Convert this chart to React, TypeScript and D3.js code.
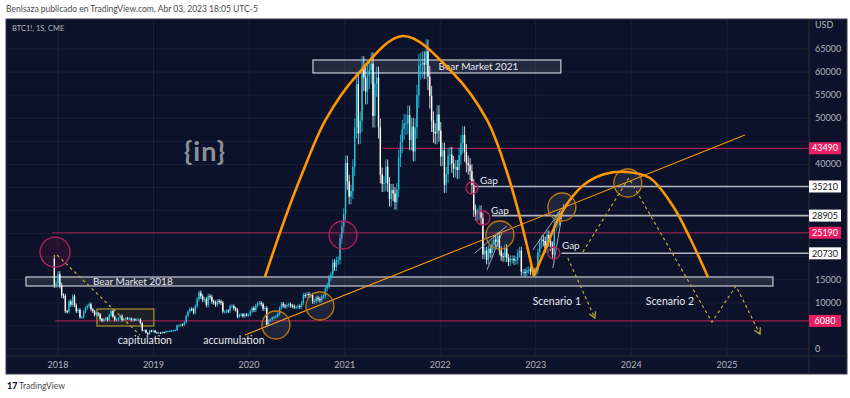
import * as d3 from "d3";

// weekly closes, CME BTC1! (1S = weekly)
const firstWeek = new Date(2017, 11, 18);
const firstOpen = 19600;
const closes2017 = [13900, 14200];
const closes2018 = [
  16200, 13800, 11600, 11500, 8200, 8100, 10300, 9600, 11400, 9500, 8200, 8500, 6900,
  6900, 8100, 8900, 9300, 9700, 8600, 8200, 7400, 7700, 7500, 6500, 6100, 6400,
  6700, 6300, 7400, 8200, 7000, 6300, 6400, 6700, 7200, 6300, 6500, 6700, 6600,
  6600, 6300, 6450, 6400, 6400, 6400, 5600, 4000, 4100, 3500, 3200, 4000, 3800, 4000,
];
const closes2019 = [
  3600, 3550, 3550, 3450, 3650, 3600, 3850, 3850, 3900, 4000, 4000, 4100,
  5100, 5100, 5300, 5200, 5800, 7200, 8100, 8700, 8600, 7900, 9300, 10800, 12200,
  11400, 10700, 10800, 9500, 11500, 11300, 10300, 10100, 9600, 10400, 10300, 10000, 8100, 8100,
  8300, 8200, 9300, 9300, 8800, 8500, 7000, 7400, 7500, 7100, 7500, 7400, 7400,
];
const closes2020 = [
  8200, 8900, 8400, 9400, 9900, 10000, 9700, 8700, 8900, 5300, 6200, 6400, 6800,
  6900, 7100, 7600, 8900, 9800, 9400, 9200, 9500, 9700, 9400, 9300, 9100, 9100,
  9300, 9200, 10000, 11700, 11600, 11900, 11700, 11700, 10300, 10400, 11100, 10800, 10600,
  11400, 11500, 13100, 13800, 15500, 16100, 18700, 17800, 19200, 19300, 24000, 26500, 29300,
];
const closes2021 = [
  40300, 36300, 33000, 34200, 39500, 48000, 57400, 46700, 49500, 61000, 58800, 55800, 59300,
  60400, 61800, 50500, 57500, 58800, 48000, 37800, 35800, 36000, 39500, 35800, 32500, 34400,
  33700, 31800, 34600, 41500, 44700, 47700, 48900, 48900, 50700, 45300, 48200, 42800, 48000,
  55000, 61500, 61800, 62000, 61600, 64500, 59000, 54800, 49500, 47000, 46700, 50800, 47300,
];
const closes2022 = [
  41700, 43000, 35600, 37900, 41900, 42100, 40200, 39100, 39400, 38800, 42000, 44600, 46400,
  42700, 40300, 39800, 38500, 35500, 30100, 29300, 29300, 29900, 28400, 20500, 21300, 19300,
  21700, 20800, 22600, 23700, 23200, 24400, 21400, 20100, 19900, 21800, 19800, 18900, 19500,
  19500, 19200, 19300, 20800, 21300, 16700, 16700, 16500, 17100, 17200, 16800, 16900, 16600,
];
const closes2023 = [17000, 20900, 22900, 23700, 23400, 21900, 24700, 23300, 22400, 20400, 26900, 27800, 28500, 28200];
const weeklyCloses = [...closes2017, ...closes2018, ...closes2019, ...closes2020, ...closes2021, ...closes2022, ...closes2023];

const priceTicks = [0, 5000, 10000, 15000, 20000, 25000, 30000, 35000, 40000, 45000, 50000, 55000, 60000, 65000];
const yearTicks = [2018, 2019, 2020, 2021, 2022, 2023, 2024, 2025];

// drawn levels: [price, from (decimal year), pink?]
const levels: [number, number, boolean][] = [
  [43490, 2021.4, true],
  [35210, 2022.36, false],
  [28905, 2022.54, false],
  [25190, 2017.94, true],
  [20730, 2023.27, false],
  [6080, 2017.97, true],
];

// orange arches [year, price]
const arch2021: [number, number][] = [
  [2020.166, 15600], [2020.37, 27950], [2020.57, 38780], [2020.8, 49620], [2021.13, 59370],
  [2021.61, 67820], [2022.133, 59800], [2022.489, 49620], [2022.698, 38350], [2022.855, 26870], [2022.981, 15820],
];
const arch2024: [number, number][] = [
  [2022.981, 15820], [2023.106, 21880], [2023.221, 27520], [2023.357, 32280], [2023.514, 35750],
  [2023.724, 37920], [2023.954, 38350], [2024.194, 37050], [2024.435, 30980], [2024.613, 24050], [2024.801, 15600],
];
const trendLine: [number, number][] = [[2019.957, 3030], [2025.188, 46370]];
const wedgeLines: [number, number][][] = [
  [[2022.363, 20800], [2022.698, 26650]],
  [[2022.489, 17120], [2022.646, 25130]],
  [[2022.97, 21450], [2023.274, 30550]],
  [[2023.18, 17550], [2023.295, 31420]],
];
const dashedPaths: { pts: [number, number][]; arrow: boolean }[] = [
  { pts: [[2017.99, 20370], [2018.858, 3030]], arrow: false },
  { pts: [[2023.336, 19720], [2023.619, 6720]], arrow: true },
  { pts: [[2023.493, 21020], [2023.975, 37050], [2024.843, 5850], [2025.094, 13650], [2025.345, 3250]], arrow: true },
];
const orangeCircles: [number, number][] = [
  [2020.281, 5200], [2020.741, 9320], [2022.625, 24700], [2023.274, 30770], [2023.964, 35970],
];
const pinkCircles: [number, number, number][] = [
  [2017.969, 21000, 15], [2020.982, 24700, 14], [2022.332, 34880, 6], [2022.447, 28380, 7], [2023.19, 20800, 6],
];
const gapLabels: [number, number][] = [[2022.332, 34880], [2022.447, 28380], [2023.19, 20800]];
const boxes: { label: string; from: number; to: number; lo: number; hi: number; labelAt: number; anchor: string }[] = [
  { label: "Bear Market 2018", from: 2017.665, to: 2025.481, lo: 13650, hi: 15600, labelAt: 2018.366, anchor: "start" },
  { label: "Bear Market 2021", from: 2020.668, to: 2023.263, lo: 59800, hi: 62620, labelAt: 2022.4, anchor: "middle" },
];
const capBox = { from: 2018.408, to: 2019.004, lo: 4980, hi: 8670 };
const notes: [string, number, number][] = [
  ["capitulation", 2018.91, 1080],
  ["accumulation", 2019.842, 1080],
  ["Scenario 1", 2023.221, 9530],
  ["Scenario 2", 2024.404, 9530],
];

const yr = (v: number) => {
  const y0 = Math.floor(v);
  const s = +new Date(y0, 0, 1);
  const e = +new Date(y0 + 1, 0, 1);
  return new Date(s + (v - y0) * (e - s));
};

const FONT = "Lato, 'Open Sans', sans-serif";
const PINK = "#e91e63";
const ORANGE = "#ff9800";
const DASH = "#c2a83a";

export default function App() {
  const W = 850;
  const H = 398;
  const L = 6, R = 809, T = 19, B = 356, RR = 847, BB = 374;

  const x = d3.scaleTime().domain([new Date(2018, 0, 1), new Date(2025, 0, 1)]).range([58, 727]);
  const y = d3.scaleLinear().domain([0, 65000]).range([349, 49]);
  const px = (p: [number, number]) => [x(yr(p[0])), y(p[1])] as [number, number];

  const candles = weeklyCloses.map((c, i) => {
    const o = i === 0 ? firstOpen : weeklyCloses[i - 1];
    const d = d3.timeDay.offset(firstWeek, 7 * i);
    const top = Math.max(o, c);
    const bot = Math.min(o, c);
    return { x: x(d), o, c, hi: top * 1.04, lo: bot * 0.95, up: c >= o };
  });

  const curve = d3.line<[number, number]>().x((p) => px(p)[0]).y((p) => px(p)[1]).curve(d3.curveCatmullRom);
  const straight = d3.line<[number, number]>().x((p) => px(p)[0]).y((p) => px(p)[1]);

  // tick labels sitting under a price tag are covered by it
  const tagYs = levels.map(([p]) => y(p));
  const visibleTicks = priceTicks.filter((t) => tagYs.every((ty) => Math.abs(ty - y(t)) > 9));

  return (
    <div style={{ position: "absolute", left: 0, top: 0 }}>
      <svg width={W} height={H} style={{ display: "block", background: "#fff" }} fontFamily={FONT}>
        <defs>
          <clipPath id="plot">
            <rect x={L} y={T} width={R - L} height={B - T} />
          </clipPath>
          <marker id="arr" viewBox="0 0 10 10" refX="8" refY="5" markerWidth="7" markerHeight="7" orient="auto">
            <path d="M1,1 L8,5 L1,9" fill="none" stroke={DASH} strokeWidth="1.5" />
          </marker>
        </defs>

        <text x={6} y={12} fontSize={8.5} fill="#4a4a4a">Benlsaza publicado en TradingView.com, Abr 03, 2023 18:05 UTC-5</text>

        <rect x={L} y={T} width={RR - L} height={BB - T} fill="#0c1229" stroke="#3a3e4c" />

        {/* grid */}
        {priceTicks.map((t) => (
          <line key={"h" + t} x1={L} x2={R} y1={y(t)} y2={y(t)} stroke="#1a2037" />
        ))}
        {yearTicks.map((t) => (
          <line key={"v" + t} x1={x(new Date(t, 0, 1))} x2={x(new Date(t, 0, 1))} y1={T} y2={B} stroke="#1a2037" />
        ))}

        <g clipPath="url(#plot)">
          {/* watermark */}
          <text x={205} y={161} textAnchor="middle" fontSize={27} fontWeight={700} fill="#8d8f99" letterSpacing={1}>
            {"{in}"}
          </text>

          {/* levels */}
          {levels.map(([p, from, pink]) => (
            <line
              key={"l" + p}
              x1={x(yr(from))}
              x2={R}
              y1={y(p)}
              y2={y(p)}
              stroke={pink ? "#9c1f52" : "#b2b5be"}
              strokeWidth={pink ? 1.2 : 1.6}
            />
          ))}

          {/* boxes */}
          {boxes.map((b) => (
            <g key={b.label}>
              <rect
                x={x(yr(b.from))}
                y={y(b.hi)}
                width={x(yr(b.to)) - x(yr(b.from))}
                height={y(b.lo) - y(b.hi)}
                fill="rgba(178,181,190,0.14)"
                stroke="#c9ccd4"
                strokeWidth={1.2}
              />
              <text
                x={x(yr(b.labelAt))}
                y={(y(b.lo) + y(b.hi)) / 2 + 3.5}
                textAnchor={b.anchor as any}
                fontSize={10}
                fill="#e6e8ee"
              >
                {b.label}
              </text>
            </g>
          ))}
          <rect
            x={x(yr(capBox.from))}
            y={y(capBox.hi)}
            width={x(yr(capBox.to)) - x(yr(capBox.from))}
            height={y(capBox.lo) - y(capBox.hi)}
            fill="rgba(160,140,40,0.12)"
            stroke="#a8962e"
            strokeWidth={1.2}
          />

          {/* candles */}
          {candles.map((k, i) => {
            const col = k.up ? "#22c5e2" : "#ffffff";
            const yt = y(Math.max(k.o, k.c));
            const yb = y(Math.min(k.o, k.c));
            return (
              <g key={"c" + i}>
                <line x1={k.x} x2={k.x} y1={y(k.hi)} y2={y(k.lo)} stroke={col} strokeWidth={0.8} />
                <rect x={k.x - 0.7} y={yt} width={1.4} height={Math.max(1, yb - yt)} fill={col} />
              </g>
            );
          })}

          {/* wedge lines */}
          {wedgeLines.map((l, i) => (
            <path key={"w" + i} d={straight(l) || ""} stroke="#c8ccd6" strokeWidth={0.8} fill="none" />
          ))}

          {/* trend line */}
          <path d={straight(trendLine) || ""} stroke={ORANGE} strokeWidth={1.1} fill="none" />

          {/* circles */}
          {orangeCircles.map((c, i) => {
            const [cx, cy] = px(c);
            return <circle key={"o" + i} cx={cx} cy={cy} r={14} fill="rgba(180,180,190,0.12)" stroke="#c27a0e" strokeWidth={1.3} />;
          })}
          {pinkCircles.map((c, i) => {
            const [cx, cy] = px([c[0], c[1]]);
            return <circle key={"p" + i} cx={cx} cy={cy} r={c[2]} fill="rgba(194,24,91,0.12)" stroke="#b0245e" strokeWidth={1.3} />;
          })}

          {/* arches */}
          <path d={curve(arch2021) || ""} stroke={ORANGE} strokeWidth={2.6} fill="none" />
          <path d={curve(arch2024) || ""} stroke={ORANGE} strokeWidth={2.6} fill="none" />

          {/* dashed scenarios */}
          {dashedPaths.map((d, i) => (
            <path
              key={"d" + i}
              d={straight(d.pts) || ""}
              stroke={DASH}
              strokeWidth={1.2}
              strokeDasharray="3,3"
              fill="none"
              markerEnd={d.arrow ? "url(#arr)" : undefined}
            />
          ))}

          {/* labels */}
          {gapLabels.map((g, i) => {
            const [gx, gy] = px(g);
            return (
              <text key={"g" + i} x={gx + 8} y={gy - 4} fontSize={10} fill="#e6e8ee">
                Gap
              </text>
            );
          })}
          {notes.map(([t, a, p]) => (
            <text key={t} x={x(yr(a))} y={y(p)} textAnchor="middle" fontSize={10.5} fill="#e6e8ee">
              {t}
            </text>
          ))}
        </g>

        {/* axes frame */}
        <line x1={R} x2={R} y1={T} y2={BB} stroke="#2a2e39" />
        <line x1={L} x2={RR} y1={B} y2={B} stroke="#2a2e39" />

        <text x={12} y={31} fontSize={7.5} fill="#b2b5be">BTC1!, 1S, CME</text>

        {/* price axis */}
        <text x={815} y={28} fontSize={9} fill="#b2b5be">USD</text>
        {visibleTicks.map((t) => (
          <text key={"pt" + t} x={815} y={y(t) + 3} fontSize={9} fill="#b2b5be">
            {t}
          </text>
        ))}
        {levels.map(([p, , pink]) => (
          <g key={"tag" + p}>
            <rect x={R} y={y(p) - 6} width={32} height={12} fill={pink ? PINK : "#ffffff"} />
            <text x={R + 16} y={y(p) + 3.2} textAnchor="middle" fontSize={9} fill={pink ? "#ffffff" : "#131722"}>
              {p}
            </text>
          </g>
        ))}

        {/* time axis */}
        {yearTicks.map((t) => (
          <text key={"yt" + t} x={x(new Date(t, 0, 1))} y={368} textAnchor="middle" fontSize={9} fill="#b2b5be">
            {t}
          </text>
        ))}

        {/* footer */}
        <text x={7} y={389} fontSize={9} fontWeight={900} fill="#131722">17</text>
        <text x={19} y={389} fontSize={8.5} fill="#4a4a4a">TradingView</text>
      </svg>
    </div>
  );
}
